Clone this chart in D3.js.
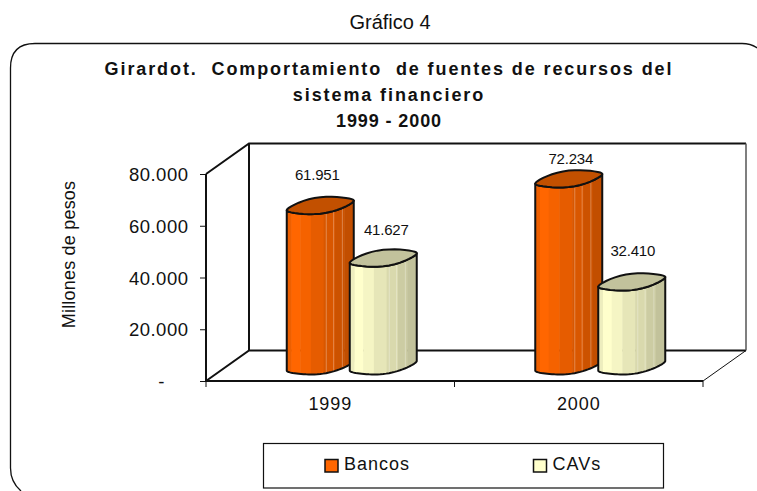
<!DOCTYPE html>
<html><head><meta charset="utf-8">
<script src="https://cdn.jsdelivr.net/npm/d3@7"></script>
<style>
html,body{margin:0;padding:0;background:#fff;overflow:hidden}
svg{display:block}
text{font-family:"Liberation Sans",Arial,sans-serif;fill:#111}
</style></head><body><div id="c"></div>
<script>
const categories = ["1999", "2000"];
const seriesNames = ["Bancos", "CAVs"];
const bancos = [61951, 72234];
const cavs = [41627, 32410];
const valueLabels = [["61.951", "72.234"], ["41.627", "32.410"]];
const yTicks = [0, 20000, 40000, 60000, 80000];
const yTickLabels = ["-", "20.000", "40.000", "60.000", "80.000"];
const titleLines = ["Girardot.  Comportamiento  de fuentes de recursos del", "sistema financiero", "1999 - 2000"];
const bandStops = [0, .07, .2, .36, .55, .72, .86, 1];
const bandShades = [.93, 1, .96, .9, .85, .8, .76];
const colors = ["#ff6600", "#ffffcc"];
const topColors = ["#c25000", "#c2c29c"];

const W = 757, H = 491;
const svg = d3.select("#c").append("svg").attr("width", W).attr("height", H);

const y = d3.scaleLinear().domain([0, 80000]).range([381, 174]);
const x0 = d3.scaleBand().domain(categories).range([206, 703]);
const dx = 43, dy = -30.5;

svg.append("text").attr("x", 390).attr("y", 29).attr("text-anchor", "middle")
  .style("font-size", "20px").text("Gráfico 4");

svg.append("path").attr("fill", "none").attr("stroke", "#111").attr("stroke-width", 1.3)
  .attr("d", "M21,491 Q10.5,482 10.5,468 V68 Q10.5,43.5 35,43.5 H742 Q751,43.5 758,48.5");

const title = svg.append("g").style("font-size", "18px").style("font-weight", "bold").attr("text-anchor", "middle");
titleLines.forEach((t, i) => title.append("text").attr("x", 389).attr("y", [75, 101, 127][i])
  .style("letter-spacing", i < 2 ? "1.9px" : "0.9px").style("white-space", "pre").text(t));

svg.append("text").attr("transform", "translate(75,254.5) rotate(-90)").attr("text-anchor", "middle")
  .style("font-size", "18px").style("letter-spacing", "0.2px").text("Millones de pesos");

// walls
const walls = svg.append("g").attr("fill", "none").attr("stroke", "#111");
const X0 = x0.range()[0], X1 = x0.range()[1], Y0 = y(0), Y1 = y(80000);
walls.append("path").attr("stroke-width", 2).attr("d",
  `M${X0},${Y1} L${X0+dx},${Y1+dy} H${X1+dx} M${X0},${Y0} L${X0+dx},${Y0+dy} H${X1+dx} M${X0+dx},${Y1+dy} V${Y0+dy} M${X0},${Y1} V${Y0} H${X1}`);
walls.append("path").attr("stroke", "#555").attr("stroke-width", 1.5).attr("d", `M${X1+dx},${Y1+dy} V${Y0+dy}`);
walls.append("path").attr("stroke-width", 1).attr("d", `M${X1+dx},${Y0+dy} L${X1},${Y0}`);

// axes
const axisL = d3.axisLeft(y).tickValues(yTicks).tickSize(6).tickFormat((d, i) => yTickLabels[i]);
const gy = svg.append("g").attr("transform", `translate(${X0},0)`).call(axisL);
gy.select(".domain").remove();
gy.selectAll("line").attr("stroke", "#111");
gy.selectAll("text").style("font-size", "18.5px").style("letter-spacing", "0.5px")
  .attr("x", d => d === 0 ? -41 : -17.5).attr("dy", "0.36em").attr("fill", "#111");

const gx = svg.append("g").attr("transform", `translate(0,${Y0})`);
[X0, (X0 + X1) / 2, X1].forEach(v => gx.append("line").attr("x1", v).attr("x2", v).attr("y1", 0).attr("y2", 6).attr("stroke", "#111"));
categories.forEach(c => gx.append("text").attr("x", x0(c) + x0.bandwidth() / 2).attr("y", 29)
  .attr("text-anchor", "middle").style("font-size", "18px").style("letter-spacing", "0.9px").text(c));

// bars
const barW = 67, off = 31.5, ry = 7.5, skew = 4.5;
const labelNudge = [[[-3, -25], [2, -15]], [[3, -23], [1, -26]]];
function ring(cx, cy, from, to) {
  return d3.range(0, 37).map(i => from + (to - from) * i / 36).map(t => {
    const c = Math.cos(t), s = Math.sin(t);
    return [cx + barW / 2 * c, cy + ry * s - skew * c - 0.8 * Math.sin(3 * t + .4)];
  });
}
const lineGen = d3.line();
const bars = svg.append("g");
const all = [bancos, cavs];
categories.forEach((c, ci) => {
  [0, 1].forEach(si => {
    const cx = x0(c) + x0.bandwidth() / 2 + dx / 2 + (si ? off : -off);
    const yb = y(0) + dy / 2, yt = y(all[si][ci]) + dy / 2;
    const g = bars.append("g");
    const L = cx - barW / 2;
    const bodyPts = ring(cx, yt, Math.PI, 0).concat(ring(cx, yb, 0, Math.PI));
    const clipId = `clip${ci}${si}`;
    g.append("clipPath").attr("id", clipId).append("path").attr("d", lineGen(bodyPts) + "Z");
    const bg = g.append("g").attr("clip-path", `url(#${clipId})`);
    const base = d3.rgb(colors[si]);
    bandShades.forEach((sh, i) => {
      bg.append("rect").attr("x", L + bandStops[i] * barW).attr("width", (bandStops[i + 1] - bandStops[i]) * barW + .5)
        .attr("y", yt - 20).attr("height", yb - yt + 50)
        .attr("fill", d3.rgb(base.r * sh, base.g * sh, base.b * sh));
    });
    [.59, .7, .83].forEach(f => bg.append("line").attr("x1", L + f * barW).attr("x2", L + f * barW)
      .attr("y1", yt - 20).attr("y2", yb + 30).attr("stroke", "#fff").attr("stroke-opacity", .3));
    g.append("path").attr("d", lineGen(bodyPts) + "Z").attr("fill", "none").attr("stroke", "#111")
      .attr("stroke-width", 2).attr("stroke-linejoin", "round");
    g.append("path").attr("d", lineGen(ring(cx, yt, 0, 2 * Math.PI)) + "Z").attr("fill", topColors[si])
      .attr("stroke", "#111").attr("stroke-width", 2);
  });
});
categories.forEach((c, ci) => {
  [0, 1].forEach(si => {
    const cx = x0(c) + x0.bandwidth() / 2 + dx / 2 + (si ? off : -off);
    const yt = y(all[si][ci]) + dy / 2;
    svg.append("text").attr("x", cx + labelNudge[si][ci][0]).attr("y", yt + labelNudge[si][ci][1]).attr("text-anchor", "middle")
      .style("font-size", "15px").style("letter-spacing", "-0.2px").text(valueLabels[si][ci]);
  });
});

// legend
svg.append("rect").attr("x", 263.5).attr("y", 443.5).attr("width", 400).attr("height", 44.5)
  .attr("fill", "#fff").attr("stroke", "#111").attr("stroke-width", 1.2);
const lx = d3.scaleOrdinal().domain(seriesNames).range([325, 533.5]);
seriesNames.forEach((n, i) => {
  svg.append("rect").attr("x", lx(n)).attr("y", 459.5).attr("width", 13).attr("height", 12.5)
    .attr("fill", colors[i]).attr("stroke", "#111").attr("stroke-width", 1.5);
  svg.append("text").attr("x", lx(n) + 19).attr("y", 469.5).style("font-size", "18px").style("letter-spacing", "1px").text(n);
});
</script></body></html>
